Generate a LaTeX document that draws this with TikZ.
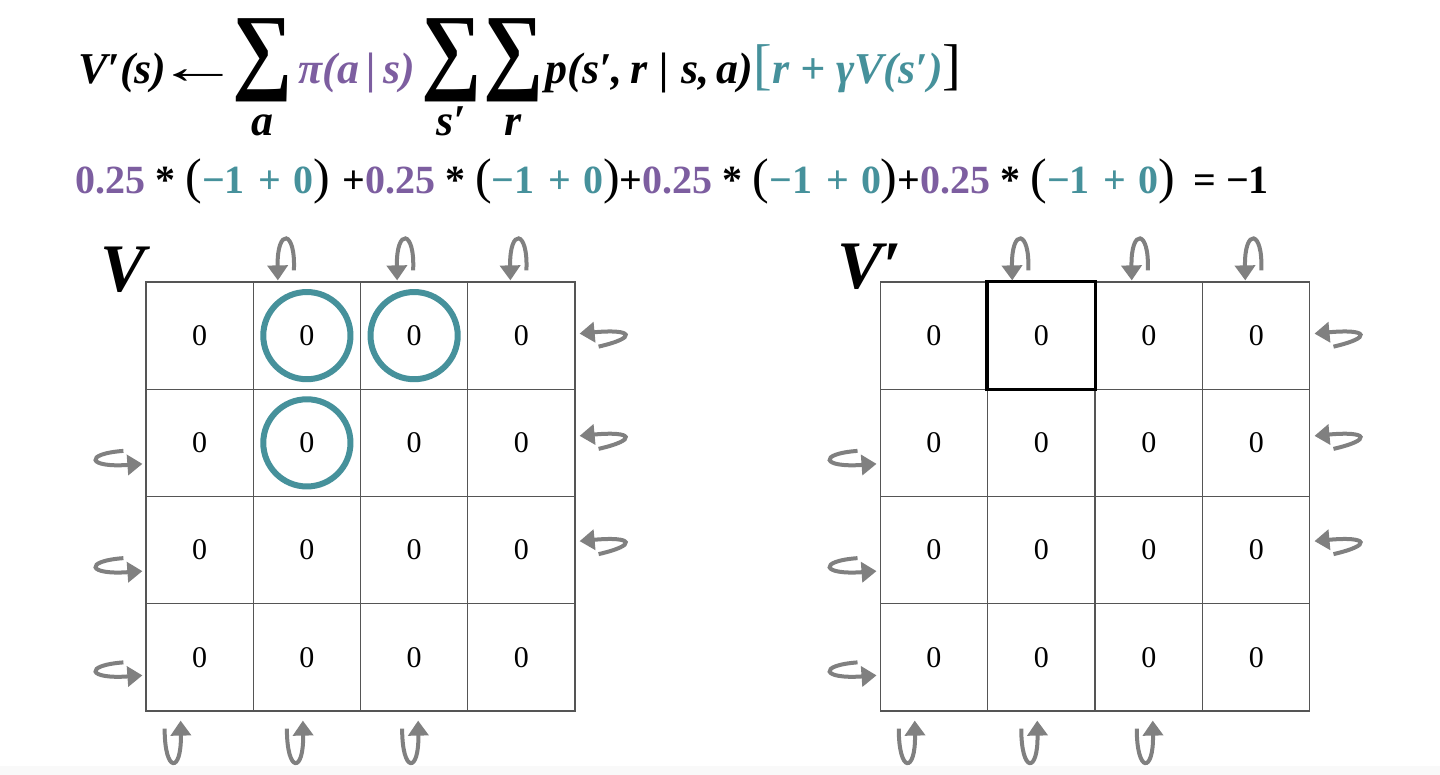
\documentclass[tikz,border=0pt]{standalone}
\usepackage{fontspec}
\setmainfont{Liberation Serif}
\usepackage{graphicx}
\usepackage{tikz}
\usetikzlibrary{arrows.meta, calc, positioning}
\definecolor{policypurple}{RGB}{125, 94, 160}
\definecolor{returnteal}{RGB}{70, 145, 155}
\definecolor{loopgray}{RGB}{128, 128, 128}
\definecolor{gridgray}{RGB}{85, 85, 85}

% big sum with its index centred below
\newsavebox{\sumbox}
\newcommand{\sumover}[1]{%
    \sbox{\sumbox}{\upshape\fontsize{48}{48}\selectfont\scalebox{0.88}[1]{∑}}%
    \rlap{\makebox[\wd\sumbox]{\raisebox{-26pt}{#1}}}%
    \raisebox{1pt}{\usebox{\sumbox}}}
\newcommand{\thinpar}[1]{{\mdseries\fontsize{25}{25}\selectfont #1}}
\newcommand{\avgterm}{\textcolor{policypurple}{0.25}\hspace{5pt}*\hspace{5pt}\thinpar{(}\textcolor{returnteal}{−1\hspace{7pt}+\hspace{6pt}0}\thinpar{)}}

\tikzset{
    cell/.style={draw=gridgray, line width=0.6pt, minimum size=53.625pt,
                 inner sep=0pt, font=\fontsize{15}{15}\selectfont},
    selfloop/.style={loopgray, line width=2pt,
                     -{Triangle[length=7.5pt, width=10pt]}},
    looptop/.pic={\draw[selfloop] (9,-11) .. controls (11,-52) and (-8,-54) .. (-7,-1);},
    loopbottom/.pic={\draw[selfloop] (-9,17) .. controls (-9,62) and (8,62) .. (7,9);},
    loopright/.pic={\draw[selfloop] (23,9) .. controls (62,0) and (58,-9) .. (4,-4);},
    loopleft/.pic={\draw[selfloop] (-22,-9) .. controls (-62,-6) and (-58,8) .. (-3,4);}
}

\begin{document}
\begin{tikzpicture}[x=0.5pt, y=-0.5pt]
    \useasboundingbox (0,0) rectangle (1440,775);
    \fill[white] (0,0) rectangle (1440,775);
    \fill[gray!5] (0,766) rectangle (1440,775);
    % Bellman update
    \node[anchor=base west, inner sep=0pt,
          font=\fontsize{22}{22}\selectfont\bfseries\itshape] (bellman) at (78, 84)
        {V′(s)\hspace{-5pt}{\upshape\mdseries\scalebox{1.9}[1.1]{←}}\hspace{-4pt}\sumover{a}\hspace{3pt}\textcolor{policypurple}{π(a\,|\,s)}\hspace{3pt}\sumover{s′}\hspace{1pt}\sumover{r}\hspace{1pt}p(s′,\,r\;|\;s,\,a){\color{returnteal}{\upshape\mdseries\fontsize{28}{28}\selectfont[}r + γV(s′)}{\upshape\mdseries\fontsize{28}{28}\selectfont]}};
    % worked numbers
    \node[anchor=base west, inner sep=0pt,
          font=\fontsize{20}{20}\selectfont\bfseries] (update) at (75, 194)
        {\avgterm\hspace{6pt}+\avgterm+\avgterm+\avgterm\hspace{9pt}=\hspace{5pt}−1};
    % Grids V and V'
    \foreach \r in {1,...,4} {
        \foreach \c in {1,...,4} {
            \node[cell] (L\r\c) at ({146+107.25*(\c-0.5)}, {282+107.25*(\r-0.5)}) {0};
            \node[cell] (R\r\c) at ({880+107.5*(\c-0.5)}, {282+107.25*(\r-0.5)}) {0};
        }
    }
    \node[anchor=base west, inner sep=0pt,
          font=\fontsize{34}{34}\selectfont\bfseries\itshape] (vname) at (100, 292) {V};
    \node[anchor=base west, inner sep=0pt,
          font=\fontsize{34}{34}\selectfont\bfseries\itshape] (vnewname) at (837, 289) {V′};
    % state being updated
    \draw[black, line width=1.6pt] (R12.south west) rectangle (R12.north east);
    % neighbours looked at
    \foreach \s in {L12, L13, L22}
        \draw[returnteal, line width=3pt] (\s) circle[radius=21.8pt];
    % Bounce-back arrows at the walls
    \foreach \g in {L, R} {
        \foreach \c/\dx in {2/-22, 3/-10, 4/-4}
            \pic at ($(\g1\c.north)+(\dx,0)$) {looptop};
        \foreach \c/\dx in {1/-26, 2/-11, 3/-3}
            \pic at ($(\g4\c.south)+(\dx,0)$) {loopbottom};
        \foreach \r/\dy in {1/2, 2/-3, 3/-5}
            \pic at ($(\g\r4.east)+(0,\dy)$) {loopright};
        \foreach \r/\dy in {2/17, 3/17, 4/14}
            \pic at ($(\g\r1.west)+(0,\dy)$) {loopleft};
    }
\end{tikzpicture}
\end{document}
